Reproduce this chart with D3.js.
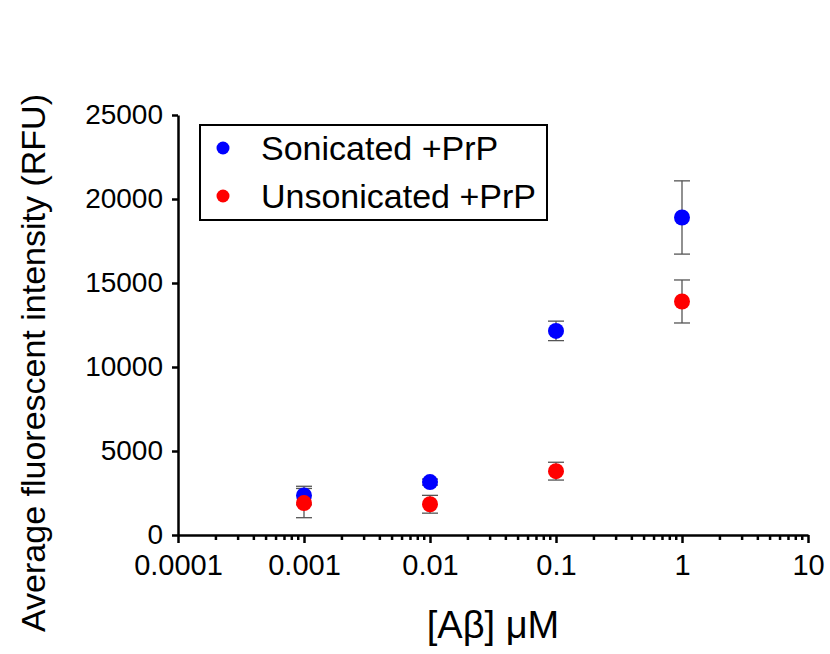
<!DOCTYPE html>
<html><head><meta charset="utf-8">
<script src="https://cdn.jsdelivr.net/npm/d3@7"></script>
<style>body{margin:0;background:#fff;} text{font-family:"Liberation Sans",Arial,sans-serif;fill:#000;}</style>
</head><body>
<svg id="c" width="830" height="654"></svg>
<script>
const concentrations = [0.001, 0.01, 0.1, 1];
const sonicatedMean = [2350, 3150, 12150, 18900];
const sonicatedErr  = [550, 180, 580, 2180];
const unsonicatedMean = [1900, 1830, 3800, 13900];
const unsonicatedErr  = [870, 530, 530, 1280];
const seriesNames = ["Sonicated +PrP", "Unsonicated +PrP"];
const seriesColors = ["#0000ff", "#ff0000"];
const xTickValues = [0.0001, 0.001, 0.01, 0.1, 1, 10];
const xTickLabels = ["0.0001", "0.001", "0.01", "0.1", "1", "10"];
const yTickValues = [0, 5000, 10000, 15000, 20000, 25000];

const svg = d3.select("#c");
const x = d3.scaleLog().domain([0.0001, 10]).range([178, 808]);
const y = d3.scaleLinear().domain([0, 25000]).range([535, 115]);
const FONT = "Liberation Sans, Arial, sans-serif";

// minor ticks
const minor = [];
for (let e = -4; e < 1; e++) for (let m = 2; m <= 9; m++) minor.push(m * Math.pow(10, e));

const gx = svg.append("g").attr("transform", "translate(0,535)");
gx.call(d3.axisBottom(x).tickValues(xTickValues).tickFormat((d,i)=>xTickLabels[i]).tickSize(8).tickPadding(11).tickSizeOuter(0));
gx.append("g").selectAll("line").data(minor).join("line")
  .attr("x1", d=>x(d)).attr("x2", d=>x(d)).attr("y1",0).attr("y2",5)
  .attr("stroke","#000").attr("stroke-width",2.5);
gx.select(".domain").attr("stroke-width",2.5);
gx.selectAll(".tick line").attr("stroke-width",2.5);
gx.selectAll(".tick text").attr("font-size",29).attr("font-family",FONT);

const gy = svg.append("g").attr("transform", "translate(178,0)");
gy.call(d3.axisLeft(y).tickValues(yTickValues).tickFormat(d3.format("d")).tickSize(6).tickPadding(9).tickSizeOuter(0));
gy.select(".domain").attr("stroke-width",2.5);
gy.selectAll(".tick line").attr("stroke-width",2.5);
gy.selectAll(".tick text").attr("font-size",28).attr("font-family",FONT);

const series = [
  {name: seriesNames[0], color: seriesColors[0], mean: sonicatedMean, err: sonicatedErr},
  {name: seriesNames[1], color: seriesColors[1], mean: unsonicatedMean, err: unsonicatedErr}
];
const errColor = "#555";
series.forEach(s => {
  const g = svg.append("g");
  const pts = concentrations.map((c,i)=>({c, m:s.mean[i], e:s.err[i]}));
  g.selectAll("line.v").data(pts).join("line").attr("class","v")
    .attr("x1",d=>x(d.c)).attr("x2",d=>x(d.c)).attr("y1",d=>y(d.m+d.e)).attr("y2",d=>y(d.m-d.e))
    .attr("stroke",errColor).attr("stroke-width",1.3);
  ["+","-"].forEach(sg=>{
    g.selectAll("line.c"+(sg=="+"?"p":"m")).data(pts).join("line")
      .attr("x1",d=>x(d.c)-8).attr("x2",d=>x(d.c)+8)
      .attr("y1",d=>y(sg=="+"?d.m+d.e:d.m-d.e)).attr("y2",d=>y(sg=="+"?d.m+d.e:d.m-d.e))
      .attr("stroke",errColor).attr("stroke-width",1.3);
  });
});
series.forEach(s => {
  svg.append("g").selectAll("circle").data(concentrations.map((c,i)=>({c,m:s.mean[i]}))).join("circle")
    .attr("cx",d=>x(d.c)).attr("cy",d=>y(d.m)).attr("r",8).attr("fill",s.color);
});

// legend
const lg = svg.append("g");
lg.append("rect").attr("x",200).attr("y",125).attr("width",347).attr("height",95)
  .attr("fill","#fff").attr("stroke","#000").attr("stroke-width",2);
series.forEach((s,i)=>{
  lg.append("circle").attr("cx",223).attr("cy",148+i*48).attr("r",6.5).attr("fill",s.color);
  lg.append("text").attr("x",261).attr("y",148+i*48).attr("dy","0.36em").attr("font-size",34).attr("font-family",FONT).text(s.name);
});

// titles
svg.append("text").attr("x",493).attr("y",638).attr("text-anchor","middle").attr("font-size",38).attr("font-family",FONT).text("[Aβ] μM");
svg.append("text").attr("transform","translate(45,363) rotate(-90)").attr("text-anchor","middle").attr("font-size",34).attr("font-family",FONT).text("Average fluorescent intensity (RFU)");
</script>
</body></html>
